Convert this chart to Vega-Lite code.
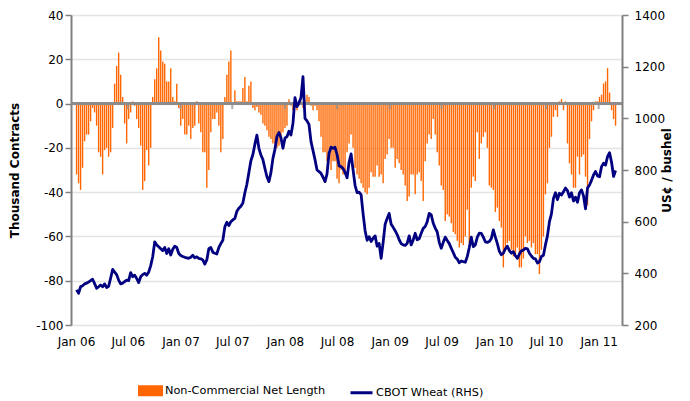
{
"$schema": "https://vega.github.io/schema/vega-lite/v6.json",
"width": 551,
"height": 310,
"autosize": {"type": "none"},
"padding": {"left": 71, "top": 15, "right": 68, "bottom": 76},
"background": "white",
"config": {
  "view": {"stroke": null},
  "font": "DejaVu Sans",
  "axis": {"labelFont": "DejaVu Sans", "labelFontSize": 12, "labelColor": "#000000", "titleFont": "DejaVu Sans", "titleFontSize": 12, "titleColor": "#000000", "titleFontWeight": "bold"}
},
"datasets": {
"weekly": [
{"date":"2006-01-03","net":-32,"price":336},{"date":"2006-01-10","net":-36,"price":323},{"date":"2006-01-17","net":-39,"price":348},{"date":"2006-01-24","net":-29,"price":352},{"date":"2006-01-31","net":-17,"price":359},
{"date":"2006-02-07","net":-14,"price":362},{"date":"2006-02-14","net":-14,"price":366},{"date":"2006-02-21","net":-8,"price":372},{"date":"2006-02-28","net":-2,"price":377},
{"date":"2006-03-07","net":-4,"price":360},{"date":"2006-03-14","net":-10,"price":342},{"date":"2006-03-21","net":-22,"price":348},{"date":"2006-03-28","net":-24,"price":355},
{"date":"2006-04-04","net":-32,"price":348},{"date":"2006-04-11","net":-21,"price":359},{"date":"2006-04-18","net":-20,"price":345},{"date":"2006-04-25","net":-24,"price":350},
{"date":"2006-05-02","net":-22,"price":381},{"date":"2006-05-09","net":-11,"price":415},{"date":"2006-05-16","net":9,"price":405},{"date":"2006-05-23","net":17,"price":395},{"date":"2006-05-30","net":23,"price":374},
{"date":"2006-06-06","net":13,"price":359},{"date":"2006-06-13","net":3,"price":362},{"date":"2006-06-20","net":-9,"price":368},{"date":"2006-06-27","net":-18,"price":374},
{"date":"2006-07-04","net":-7,"price":372},{"date":"2006-07-11","net":-4,"price":403},{"date":"2006-07-18","net":1,"price":387},{"date":"2006-07-25","net":-1,"price":393},
{"date":"2006-08-01","net":-7,"price":380},{"date":"2006-08-08","net":-11,"price":364},{"date":"2006-08-15","net":-19,"price":387},{"date":"2006-08-22","net":-39,"price":395},{"date":"2006-08-29","net":-35,"price":400},
{"date":"2006-09-05","net":-21,"price":393},{"date":"2006-09-12","net":-28,"price":405},{"date":"2006-09-19","net":-20,"price":430},{"date":"2006-09-26","net":3,"price":464},
{"date":"2006-10-03","net":11,"price":522},{"date":"2006-10-10","net":16,"price":510},{"date":"2006-10-17","net":30,"price":503},{"date":"2006-10-24","net":24,"price":495},{"date":"2006-10-31","net":19,"price":488},
{"date":"2006-11-07","net":18,"price":500},{"date":"2006-11-14","net":10,"price":477},{"date":"2006-11-21","net":10,"price":495},{"date":"2006-11-28","net":16,"price":471},
{"date":"2006-12-05","net":3,"price":493},{"date":"2006-12-12","net":1,"price":505},{"date":"2006-12-19","net":9,"price":500},{"date":"2006-12-26","net":-2,"price":477},
{"date":"2007-01-02","net":-10,"price":469},{"date":"2007-01-09","net":-7,"price":465},{"date":"2007-01-16","net":-14,"price":462},{"date":"2007-01-23","net":-14,"price":460},{"date":"2007-01-30","net":-10,"price":458},
{"date":"2007-02-06","net":-16,"price":462},{"date":"2007-02-13","net":-11,"price":470},{"date":"2007-02-20","net":-10,"price":460},{"date":"2007-02-27","net":1,"price":464},
{"date":"2007-03-06","net":-9,"price":458},{"date":"2007-03-13","net":-13,"price":456},{"date":"2007-03-20","net":-22,"price":452},{"date":"2007-03-27","net":-22,"price":436},
{"date":"2007-04-03","net":-38,"price":452},{"date":"2007-04-10","net":-30,"price":495},{"date":"2007-04-17","net":-13,"price":500},{"date":"2007-04-24","net":-7,"price":482},
{"date":"2007-05-01","net":-7,"price":478},{"date":"2007-05-08","net":-4,"price":475},{"date":"2007-05-15","net":-10,"price":500},{"date":"2007-05-22","net":-22,"price":515},{"date":"2007-05-29","net":-16,"price":528},
{"date":"2007-06-05","net":3,"price":580},{"date":"2007-06-12","net":13,"price":598},{"date":"2007-06-19","net":19,"price":585},{"date":"2007-06-26","net":24,"price":600},
{"date":"2007-07-03","net":0.5,"price":607},{"date":"2007-07-10","net":6,"price":613},{"date":"2007-07-17","net":1,"price":640},{"date":"2007-07-24","net":1,"price":652},{"date":"2007-07-31","net":1,"price":660},
{"date":"2007-08-07","net":7,"price":672},{"date":"2007-08-14","net":12,"price":712},{"date":"2007-08-21","net":1,"price":745},{"date":"2007-08-28","net":8,"price":790},
{"date":"2007-09-04","net":10,"price":836},{"date":"2007-09-11","net":-2,"price":860},{"date":"2007-09-18","net":-3,"price":900},{"date":"2007-09-25","net":-1.5,"price":935},
{"date":"2007-10-02","net":-4,"price":884},{"date":"2007-10-09","net":-5,"price":858},{"date":"2007-10-16","net":-9,"price":840},{"date":"2007-10-23","net":-10,"price":806},{"date":"2007-10-30","net":-12,"price":774},
{"date":"2007-11-06","net":-15,"price":755},{"date":"2007-11-13","net":-16,"price":790},{"date":"2007-11-20","net":-18,"price":845},{"date":"2007-11-27","net":-18,"price":880},
{"date":"2007-12-04","net":-20,"price":930},{"date":"2007-12-11","net":-19,"price":945},{"date":"2007-12-18","net":-15,"price":925},{"date":"2007-12-25","net":-13,"price":884},
{"date":"2008-01-01","net":-11,"price":923},{"date":"2008-01-08","net":-10,"price":929},{"date":"2008-01-15","net":2,"price":950},{"date":"2008-01-22","net":-1,"price":935},{"date":"2008-01-29","net":-3,"price":981},
{"date":"2008-02-05","net":-1,"price":1080},{"date":"2008-02-12","net":-3,"price":1045},{"date":"2008-02-19","net":-1,"price":1060},{"date":"2008-02-26","net":1,"price":1080},
{"date":"2008-03-04","net":-2,"price":1161},{"date":"2008-03-11","net":1.5,"price":1000},{"date":"2008-03-18","net":4,"price":990},{"date":"2008-03-25","net":3,"price":976},
{"date":"2008-04-01","net":-1,"price":910},{"date":"2008-04-08","net":-3,"price":875},{"date":"2008-04-15","net":-1,"price":840},{"date":"2008-04-22","net":-3,"price":800},{"date":"2008-04-29","net":-8,"price":794},
{"date":"2008-05-06","net":-15,"price":787},{"date":"2008-05-13","net":-22,"price":772},{"date":"2008-05-20","net":-22,"price":755},{"date":"2008-05-27","net":-26,"price":785},
{"date":"2008-06-03","net":-21,"price":865},{"date":"2008-06-10","net":-30,"price":888},{"date":"2008-06-17","net":-26,"price":884},{"date":"2008-06-24","net":-26,"price":888},
{"date":"2008-07-01","net":-34,"price":860},{"date":"2008-07-08","net":-36,"price":816},{"date":"2008-07-15","net":-30,"price":813},{"date":"2008-07-22","net":-32,"price":806},{"date":"2008-07-29","net":-31,"price":790},
{"date":"2008-08-05","net":-22,"price":770},{"date":"2008-08-12","net":-18,"price":830},{"date":"2008-08-19","net":-14,"price":862},{"date":"2008-08-26","net":-20,"price":800},
{"date":"2008-09-02","net":-29,"price":740},{"date":"2008-09-09","net":-32,"price":712},{"date":"2008-09-16","net":-34,"price":714},{"date":"2008-09-23","net":-36,"price":705},{"date":"2008-09-30","net":-38,"price":630},
{"date":"2008-10-07","net":-40,"price":565},{"date":"2008-10-14","net":-41,"price":528},{"date":"2008-10-21","net":-38,"price":542},{"date":"2008-10-28","net":-31,"price":523},
{"date":"2008-11-04","net":-33,"price":536},{"date":"2008-11-11","net":-33,"price":545},{"date":"2008-11-18","net":-28,"price":505},{"date":"2008-11-25","net":-33,"price":516},
{"date":"2008-12-02","net":-32,"price":458},{"date":"2008-12-09","net":-36,"price":520},{"date":"2008-12-16","net":-25,"price":590},{"date":"2008-12-23","net":-23,"price":612},{"date":"2008-12-30","net":-16,"price":632},
{"date":"2009-01-06","net":-20,"price":590},{"date":"2009-01-13","net":-20,"price":578},{"date":"2009-01-20","net":-29,"price":565},{"date":"2009-01-27","net":-25,"price":550},
{"date":"2009-02-03","net":-27,"price":530},{"date":"2009-02-10","net":-30,"price":515},{"date":"2009-02-17","net":-32,"price":510},{"date":"2009-02-24","net":-37,"price":508},
{"date":"2009-03-03","net":-44,"price":516},{"date":"2009-03-10","net":-42,"price":545},{"date":"2009-03-17","net":-32,"price":510},{"date":"2009-03-24","net":-32,"price":529},{"date":"2009-03-31","net":-41,"price":555},
{"date":"2009-04-07","net":-32,"price":530},{"date":"2009-04-14","net":-31,"price":534},{"date":"2009-04-21","net":-35,"price":555},{"date":"2009-04-28","net":-44,"price":574},
{"date":"2009-05-05","net":-26,"price":581},{"date":"2009-05-12","net":-18,"price":600},{"date":"2009-05-19","net":-14,"price":632},{"date":"2009-05-26","net":-16,"price":626},
{"date":"2009-06-02","net":-7,"price":594},{"date":"2009-06-09","net":-14,"price":575},{"date":"2009-06-16","net":-22,"price":560},{"date":"2009-06-23","net":-28,"price":520},{"date":"2009-06-30","net":-37,"price":497},
{"date":"2009-07-07","net":-39,"price":520},{"date":"2009-07-14","net":-53,"price":540},{"date":"2009-07-21","net":-50,"price":527},{"date":"2009-07-28","net":-51,"price":515},
{"date":"2009-08-04","net":-54,"price":497},{"date":"2009-08-11","net":-58,"price":480},{"date":"2009-08-18","net":-59,"price":462},{"date":"2009-08-25","net":-62,"price":455},
{"date":"2009-09-01","net":-65,"price":441},{"date":"2009-09-08","net":-63,"price":448},{"date":"2009-09-15","net":-64,"price":445},{"date":"2009-09-22","net":-60,"price":443},{"date":"2009-09-29","net":-48,"price":465},
{"date":"2009-10-06","net":-63,"price":500},{"date":"2009-10-13","net":-38,"price":540},{"date":"2009-10-20","net":-33,"price":503},{"date":"2009-10-27","net":-35,"price":510},
{"date":"2009-11-03","net":-13,"price":540},{"date":"2009-11-10","net":-25,"price":556},{"date":"2009-11-17","net":-18,"price":555},{"date":"2009-11-24","net":-15,"price":540},
{"date":"2009-12-01","net":-13,"price":522},{"date":"2009-12-08","net":-20,"price":520},{"date":"2009-12-15","net":-37,"price":523},{"date":"2009-12-22","net":-38,"price":535},{"date":"2009-12-29","net":-39,"price":568},
{"date":"2010-01-05","net":-49,"price":540},{"date":"2010-01-12","net":-47,"price":515},{"date":"2010-01-19","net":-53,"price":485},{"date":"2010-01-26","net":-56,"price":472},
{"date":"2010-02-02","net":-74,"price":478},{"date":"2010-02-09","net":-66,"price":495},{"date":"2010-02-16","net":-63,"price":505},{"date":"2010-02-23","net":-62,"price":488},
{"date":"2010-03-02","net":-66,"price":478},{"date":"2010-03-09","net":-69,"price":484},{"date":"2010-03-16","net":-69,"price":468},{"date":"2010-03-23","net":-65,"price":458},{"date":"2010-03-30","net":-74,"price":475},
{"date":"2010-04-06","net":-74,"price":487},{"date":"2010-04-13","net":-70,"price":490},{"date":"2010-04-20","net":-60,"price":497},{"date":"2010-04-27","net":-63,"price":495},
{"date":"2010-05-04","net":-62,"price":478},{"date":"2010-05-11","net":-65,"price":467},{"date":"2010-05-18","net":-63,"price":458},{"date":"2010-05-25","net":-68,"price":456},
{"date":"2010-06-01","net":-68,"price":440},{"date":"2010-06-08","net":-77,"price":445},{"date":"2010-06-15","net":-66,"price":465},{"date":"2010-06-22","net":-60,"price":470},{"date":"2010-06-29","net":-41,"price":510},
{"date":"2010-07-06","net":-36,"price":545},{"date":"2010-07-13","net":-20,"price":600},{"date":"2010-07-20","net":-15,"price":630},{"date":"2010-07-27","net":-6,"price":690},
{"date":"2010-08-03","net":-3,"price":712},{"date":"2010-08-10","net":-6,"price":685},{"date":"2010-08-17","net":1,"price":710},{"date":"2010-08-24","net":2,"price":703},{"date":"2010-08-31","net":-3,"price":716},
{"date":"2010-09-07","net":1,"price":730},{"date":"2010-09-14","net":-18,"price":720},{"date":"2010-09-21","net":-27,"price":695},{"date":"2010-09-28","net":-32,"price":712},
{"date":"2010-10-05","net":-38,"price":680},{"date":"2010-10-12","net":-38,"price":695},{"date":"2010-10-19","net":-24,"price":675},{"date":"2010-10-26","net":-32,"price":712},
{"date":"2010-11-02","net":-24,"price":723},{"date":"2010-11-09","net":-23,"price":700},{"date":"2010-11-16","net":-33,"price":650},{"date":"2010-11-23","net":-46,"price":730},{"date":"2010-11-30","net":-16,"price":742},
{"date":"2010-12-07","net":-8,"price":760},{"date":"2010-12-14","net":-3,"price":781},{"date":"2010-12-21","net":1,"price":794},{"date":"2010-12-28","net":1,"price":777},
{"date":"2011-01-04","net":3,"price":774},{"date":"2011-01-11","net":4,"price":813},{"date":"2011-01-18","net":9,"price":826},{"date":"2011-01-25","net":10,"price":819},
{"date":"2011-02-01","net":16,"price":852},{"date":"2011-02-08","net":5,"price":867},{"date":"2011-02-15","net":-3,"price":830},{"date":"2011-02-22","net":-7,"price":775},
{"date":"2011-03-01","net":-10,"price":798}
],
"halfyears": [
{"date":"2006-07-01"},{"date":"2007-01-01"},{"date":"2007-07-01"},{"date":"2008-01-01"},{"date":"2008-07-01"},
{"date":"2009-01-01"},{"date":"2009-07-01"},{"date":"2010-01-01"},{"date":"2010-07-01"},{"date":"2011-01-01"}
]
},
"data": {"name": "weekly"},
"layer": [
  {
    "layer": [
      {
        "mark": {"type": "bar", "width": 1.4},
        "encoding": {
          "x": {
            "field": "date", "type": "temporal",
            "scale": {"type": "utc", "domain": [{"year": 2006, "month": 1, "date": 1, "utc": true}, {"year": 2011, "month": 3, "date": 6, "utc": true}]},
            "axis": {
              "title": null, "domain": false, "ticks": false, "grid": false,
              "format": "%b %y", "labelPadding": 11, "labelFlush": false, "labelOverlap": false, "labelBound": false,
              "values": [
                {"year": 2006, "month": 1, "date": 1, "utc": true}, {"year": 2006, "month": 7, "date": 1, "utc": true},
                {"year": 2007, "month": 1, "date": 1, "utc": true}, {"year": 2007, "month": 7, "date": 1, "utc": true},
                {"year": 2008, "month": 1, "date": 1, "utc": true}, {"year": 2008, "month": 7, "date": 1, "utc": true},
                {"year": 2009, "month": 1, "date": 1, "utc": true}, {"year": 2009, "month": 7, "date": 1, "utc": true},
                {"year": 2010, "month": 1, "date": 1, "utc": true}, {"year": 2010, "month": 7, "date": 1, "utc": true},
                {"year": 2011, "month": 1, "date": 1, "utc": true}
              ],
              "encode": {"labels": {"update": {"dx": {"signal": "-4.3 - 68.5 * (datum.value - utc(2006,0,1)) / (utc(2011,0,1) - utc(2006,0,1))"}}}}
            }
          },
          "y": {
            "field": "net", "type": "quantitative",
            "scale": {"domain": [-100, 40], "nice": false, "zero": false},
            "axis": {
              "title": "Thousand Contracts", "titlePadding": 14,
              "values": [-100, -80, -60, -40, -20, 0, 20, 40],
              "labelExpr": "'' + datum.value",
              "tickSize": 6, "tickColor": "#808080", "tickWidth": 1.5,
              "domainColor": "#808080", "domainWidth": 2, "labelPadding": 2,
              "grid": true, "gridColor": "#C8C8C8", "gridDash": [1, 1], "gridWidth": 1.5
            }
          },
          "color": {
            "datum": "Non-Commercial Net Length", "type": "nominal",
            "scale": {"domain": ["Non-Commercial Net Length", "CBOT Wheat (RHS)"], "range": ["#FF6600", "#000080"]},
            "legend": {
              "title": null, "orient": "none", "legendX": 67, "legendY": 363, "direction": "horizontal",
              "symbolSize": 484, "labelFontSize": 11.3, "labelFont": "DejaVu Sans", "labelColor": "#000000", "labelLimit": 400,
              "columnPadding": 18, "labelOffset": 2, "padding": 0,
              "encode": {"symbols": {"update": {
                "shape": {"signal": "datum.value === 'CBOT Wheat (RHS)' ? 'M-1,0H1' : 'M-1,-0.36H1V0.36H-1Z'"},
                "fill": {"signal": "datum.value === 'CBOT Wheat (RHS)' ? 'transparent' : '#FF6600'"},
                "stroke": {"signal": "datum.value === 'CBOT Wheat (RHS)' ? '#000080' : 'transparent'"},
                "strokeWidth": {"value": 3},
                "opacity": {"value": 1}
              }}}
            }
          }
        }
      },
      {
        "mark": {"type": "rule", "color": "#8C8C8C", "strokeWidth": 2},
        "encoding": {"y": {"datum": 0}}
      },
      {
        "data": {"name": "halfyears"},
        "mark": {"type": "tick", "orient": "vertical", "color": "#8C8C8C", "size": 5, "thickness": 2, "yOffset": 3},
        "encoding": {"x": {"field": "date", "type": "temporal"}, "y": {"datum": 0}}
      }
    ]
  },
  {
    "mark": {"type": "line", "strokeWidth": 2.8, "strokeJoin": "round"},
    "encoding": {
      "x": {"field": "date", "type": "temporal"},
      "y": {
        "field": "price", "type": "quantitative",
        "scale": {"domain": [200, 1400], "nice": false, "zero": false},
        "axis": {
          "orient": "right", "title": "US¢ / bushel", "titleAngle": -90, "titlePadding": 9,
          "values": [200, 400, 600, 800, 1000, 1200, 1400],
          "labelExpr": "'' + datum.value",
          "tickSize": 6, "tickColor": "#808080", "tickWidth": 1.5,
          "domainColor": "#808080", "domainWidth": 2, "labelPadding": 6, "grid": false
        }
      },
      "color": {"datum": "CBOT Wheat (RHS)", "type": "nominal"}
    }
  }
],
"resolve": {"scale": {"y": "independent"}}
}
